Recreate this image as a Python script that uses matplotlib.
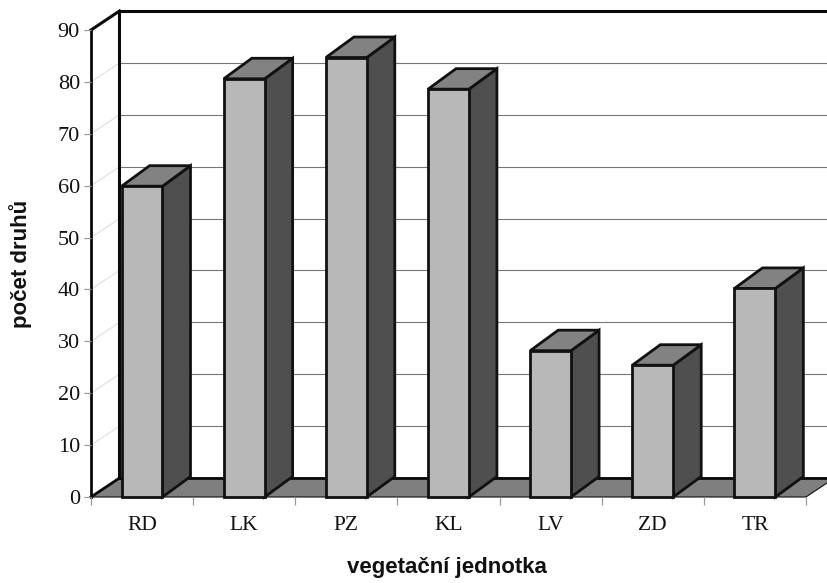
import matplotlib
matplotlib.use("Agg")
import matplotlib.pyplot as plt
from matplotlib.patches import Polygon

categories = ["RD", "LK", "PZ", "KL", "LV", "ZD", "TR"]
values = [59.9, 80.6, 84.7, 78.6, 28.2, 25.4, 40.2]
y_ticks = [0, 10, 20, 30, 40, 50, 60, 70, 80, 90]
x_label = "vegetační jednotka"
y_label = "počet druhů"

W, H = 828, 583
fig = plt.figure(figsize=(W / 100, H / 100), dpi=100, facecolor="white")
ax = fig.add_axes([91 / W, (H - 497) / H, 715 / W, 467 / H])
ax.set_xlim(0, len(categories))
ax.set_ylim(0, 90)
for s in ax.spines.values():
    s.set_visible(False)
ax.patch.set_alpha(0)

DX = 28.5 / (715 / 7)          # wall depth in category units
DY = 19 / (467 / 90)           # wall depth in value units
BDX = 28 / (715 / 7)           # bar depth
BDY = 20.5 / (467 / 90)
BW = 0.40
XMAX = len(categories)


def poly(pts, fc, ec="#111111", lw=2.0, z=2):
    ax.add_patch(Polygon(pts, closed=True, fc=fc, ec=ec, lw=lw, zorder=z,
                         clip_on=False, joinstyle="miter"))


# floor
poly([(0, 0), (DX, DY), (XMAX + DX, DY), (XMAX, 0)], "#7f7f7f", lw=0.8, z=1)

# gridlines on back wall and side wall
for v in y_ticks[1:-1]:
    ax.plot([DX, XMAX + DX], [v + DY, v + DY], color="#777777", lw=0.8,
            zorder=1, clip_on=False)
    ax.plot([0, DX], [v, v + DY], color="#e2e2e2", lw=0.9, zorder=1, clip_on=False)

# walls
K = dict(color="#0a0a0a", zorder=1.5, clip_on=False, solid_capstyle="projecting")
ax.plot([0, 0], [0, 90], lw=2.0, **K)
ax.plot([0, DX], [90, 90 + DY], lw=2.2, **K)
ax.plot([DX, DX], [DY, 90 + DY], lw=2.2, **K)
ax.plot([DX, XMAX + DX], [90 + DY, 90 + DY], lw=2.2, **K)
ax.plot([DX, XMAX + DX], [DY, DY], lw=2.0, **K)
ax.plot([0, DX], [0, DY], lw=2.0, **K)

# bars
for i, v in enumerate(values):
    x0 = i + 0.5 - BW / 2
    x1 = i + 0.5 + BW / 2
    poly([(x1, 0), (x1 + BDX, BDY), (x1 + BDX, v + BDY), (x1, v)], "#4f4f4f", z=3)
    poly([(x0, v), (x0 + BDX, v + BDY), (x1 + BDX, v + BDY), (x1, v)], "#828282", z=3)
    poly([(x0, 0), (x1, 0), (x1, v), (x0, v)], "#b8b8b8", z=4)

# ticks and labels
ax.set_yticks(y_ticks)
ax.set_xticks(range(len(categories) + 1))
ax.set_xticklabels([])
ax.tick_params(axis="y", length=5, width=0.9, color="#999999", pad=3,
               labelsize=16, labelfontfamily="Liberation Serif", labelcolor="#111111")
ax.tick_params(axis="x", length=6, width=0.9, color="#999999")
for i, c in enumerate(categories):
    ax.annotate(c, xy=(i + 0.5, 0), xytext=(0, -20.5), textcoords="offset points",
                ha="center", va="center", fontsize=15.5,
                family="Liberation Serif", color="#111111")

fig.text(447 / W, 1 - 567 / H, x_label, ha="center", va="center", fontsize=16,
         fontweight="bold", family="Liberation Sans", color="#111111")
fig.text(21 / W, 1 - 264 / H, y_label, ha="center", va="center", rotation=90,
         fontsize=16, fontweight="bold", family="Liberation Sans", color="#111111")

fig.savefig("out.png", dpi=100)
